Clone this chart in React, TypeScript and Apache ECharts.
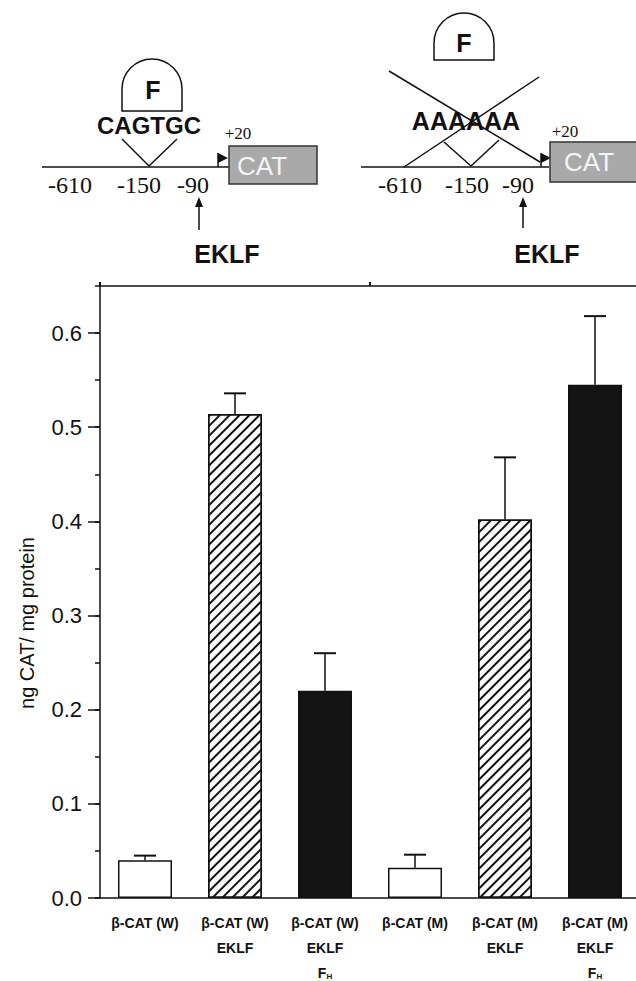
import React, { useEffect, useRef } from "react";
import * as echarts from "echarts";

// ---- data ----
const categories = [
  "β-CAT (W)",
  "β-CAT (W)\nEKLF",
  "β-CAT (W)\nEKLF\nF{sub|H}",
  "β-CAT (M)",
  "β-CAT (M)\nEKLF",
  "β-CAT (M)\nEKLF\nF{sub|H}",
];
const values = [0.04, 0.514, 0.22, 0.032, 0.402, 0.545];
const errors = [0.005, 0.022, 0.04, 0.014, 0.066, 0.073];
const treatment = ["open", "hatched", "solid", "open", "hatched", "solid"];
const yTicks = [0, 0.1, 0.2, 0.3, 0.4, 0.5, 0.6];
const yName = "ng CAT/ mg protein";

const INK = "#111";
const SANS = "'Liberation Sans', Arial, sans-serif";
const SERIF = "'Liberation Serif', 'Times New Roman', serif";

function styleFor(kind: string) {
  if (kind === "hatched") {
    return {
      color: "#fff",
      borderColor: INK,
      borderWidth: 1.5,
      decal: {
        symbol: "rect",
        symbolSize: 1,
        symbolKeepAspect: false,
        color: INK,
        backgroundColor: "#fff",
        dashArrayX: [1, 0],
        dashArrayY: [1.8, 4.6],
        rotation: -Math.PI / 4,
      },
    };
  }
  if (kind === "solid") return { color: "#141414", borderColor: INK, borderWidth: 1.5 };
  return { color: "#fff", borderColor: INK, borderWidth: 1.5 };
}

const ln = (x1: number, y1: number, x2: number, y2: number, w = 1.5) => ({
  type: "line",
  silent: true,
  shape: { x1, y1, x2, y2 },
  style: { stroke: INK, lineWidth: w },
});
const txt = (t: string, x: number, y: number, size: number, opts: any = {}) => ({
  type: "text",
  silent: true,
  x,
  y,
  rotation: opts.rotation || 0,
  style: {
    text: t,
    fontSize: size,
    fontFamily: opts.family || SANS,
    fontWeight: opts.weight || "normal",
    fill: opts.fill || INK,
    textAlign: "center",
    textVerticalAlign: "middle",
  },
});
const poly = (pts: number[][]) => ({
  type: "polygon",
  silent: true,
  shape: { points: pts },
  style: { fill: INK },
});
const dome = (cx: number, cy: number, bottom: number) => [
  {
    type: "arc",
    silent: true,
    shape: { cx, cy, r: 30, startAngle: Math.PI, endAngle: 2 * Math.PI, clockwise: true },
    style: { stroke: INK, lineWidth: 1.5, fill: null },
  },
  {
    type: "polyline",
    silent: true,
    shape: { points: [[cx - 30, cy], [cx - 30, bottom], [cx + 30, bottom], [cx + 30, cy]] },
    style: { stroke: INK, lineWidth: 1.5, fill: null },
  },
];

function diagramGraphics() {
  const g: any[] = [];
  // ---- left construct ----
  g.push(ln(42, 167, 229, 167));
  g.push(ln(122, 139, 149, 166), ln(149, 166, 177, 139));
  g.push(...dome(152, 89, 111));
  g.push(txt("F", 153, 90, 25, { weight: "bold" }));
  g.push(txt("CAGTGC", 149, 125, 24, { weight: "bold" }));
  g.push(ln(218, 167, 218, 153));
  g.push(poly([[218, 153], [228, 158], [218, 163]]));
  g.push({
    type: "rect",
    silent: true,
    shape: { x: 229, y: 146, width: 88, height: 38 },
    style: { fill: "#a9a9a9", stroke: "#333", lineWidth: 1.5 },
  });
  g.push(txt("CAT", 262, 166, 26, { fill: "#f4f4f4" }));
  g.push(txt("+20", 238, 133, 17, { family: SERIF }));
  g.push(txt("-610", 70, 185, 24, { family: SERIF }));
  g.push(txt("-150", 139, 185, 24, { family: SERIF }));
  g.push(txt("-90", 193, 185, 24, { family: SERIF }));
  g.push(ln(199, 230, 199, 204));
  g.push(poly([[199, 197], [195, 207], [203, 207]]));
  g.push(txt("EKLF", 227, 254, 25, { weight: "bold" }));

  // ---- right construct ----
  g.push(ln(361, 167, 549, 167));
  g.push(ln(444, 142, 471, 166), ln(471, 166, 499, 140));
  g.push(...dome(464, 43, 60));
  g.push(txt("F", 464, 43, 25, { weight: "bold" }));
  g.push(txt("AAAAAA", 466, 121, 25, { weight: "bold" }));
  g.push(ln(389, 71, 540, 162), ln(539, 77, 404, 167));
  g.push(ln(541, 167, 541, 153));
  g.push(poly([[541, 153], [551, 158], [541, 163]]));
  g.push({
    type: "rect",
    silent: true,
    shape: { x: 550, y: 142, width: 100, height: 40 },
    style: { fill: "#a9a9a9", stroke: "#333", lineWidth: 1.5 },
  });
  g.push(txt("CAT", 589, 162, 26, { fill: "#f4f4f4" }));
  g.push(txt("+20", 565, 131, 17, { family: SERIF }));
  g.push(txt("-610", 400, 185, 24, { family: SERIF }));
  g.push(txt("-150", 467, 185, 24, { family: SERIF }));
  g.push(txt("-90", 518, 185, 24, { family: SERIF }));
  g.push(ln(523, 228, 523, 204));
  g.push(poly([[523, 197], [519, 207], [527, 207]]));
  g.push(txt("EKLF", 547, 254, 25, { weight: "bold" }));

  // y-axis title
  g.push(txt(yName, 27, 623, 20, { rotation: Math.PI / 2 }));
  return g;
}

export default function App() {
  const ref = useRef<HTMLDivElement>(null);
  useEffect(() => {
    if (!ref.current) return;
    const chart = echarts.init(ref.current, null, { renderer: "svg" });
    const option: any = {
      animation: false,
      backgroundColor: "#fff",
      grid: { left: 100, right: -4, top: 286, bottom: 83, outerBoundsMode: "none", containLabel: false },
      xAxis: [
        {
          type: "category",
          data: categories,
          position: "bottom",
          axisLine: { lineStyle: { color: INK, width: 1.5 } },
          axisTick: { show: false },
          axisLabel: {
            interval: 0,
            color: INK,
            fontFamily: SANS,
            fontWeight: "bold",
            fontSize: 14,
            lineHeight: 25,
            margin: 12,
            rich: {
              sub: { fontSize: 8, fontWeight: "bold", fontFamily: SANS, color: INK, padding: [8, 0, 0, 0] },
            },
          },
        },
        {
          type: "value",
          position: "top",
          min: 0,
          max: 2,
          interval: 1,
          axisLine: { show: true, onZero: false, lineStyle: { color: INK, width: 1.5 } },
          axisTick: { show: true, length: 4, lineStyle: { color: INK, width: 2 } },
          axisLabel: { show: false },
          splitLine: { show: false },
        },
      ],
      yAxis: [
        {
          type: "value",
          min: 0,
          max: 0.65,
          interval: 0.1,
          position: "left",
          axisLine: { show: true, onZero: false, lineStyle: { color: INK, width: 1.5 } },
          axisTick: { show: true, length: 12, customValues: yTicks, lineStyle: { color: INK, width: 1.5 } },
          axisLabel: {
            customValues: yTicks,
            color: INK,
            fontFamily: SANS,
            fontSize: 22,
            margin: 18,
            formatter: (v: number) => v.toFixed(1),
          },
          splitLine: { show: false },
        },
        {
          type: "value",
          min: 0,
          max: 0.65,
          interval: 0.05,
          position: "left",
          axisLine: { show: false, onZero: false },
          axisTick: { show: true, length: 5, lineStyle: { color: INK, width: 1.5 } },
          axisLabel: { show: false },
          splitLine: { show: false },
        },
      ],
      series: [
        {
          type: "bar",
          xAxisIndex: 0,
          yAxisIndex: 0,
          barWidth: 54,
          data: values.map((v, i) => ({ value: v, itemStyle: styleFor(treatment[i]) })),
        },
        {
          type: "custom",
          xAxisIndex: 0,
          yAxisIndex: 0,
          z: 5,
          encode: { x: 0, y: 1 },
          data: values.map((v, i) => [i, v, errors[i]]),
          renderItem: (params: any, api: any) => {
            const i = api.value(0);
            const v = api.value(1);
            const e = api.value(2);
            const base = api.coord([i, v]);
            const top = api.coord([i, v + e]);
            return {
              type: "group",
              children: [
                {
                  type: "line",
                  shape: { x1: base[0], y1: base[1], x2: top[0], y2: top[1] },
                  style: { stroke: INK, lineWidth: 1.5 },
                },
                {
                  type: "line",
                  shape: { x1: top[0] - 11, y1: top[1], x2: top[0] + 11, y2: top[1] },
                  style: { stroke: INK, lineWidth: 2 },
                },
              ],
            };
          },
        },
      ],
      graphic: diagramGraphics(),
    };
    chart.setOption(option);
    return () => chart.dispose();
  }, []);
  return (
    <div
      ref={ref}
      style={{ position: "fixed", left: 0, top: 0, width: 636, height: 981, background: "#fff" }}
    />
  );
}
